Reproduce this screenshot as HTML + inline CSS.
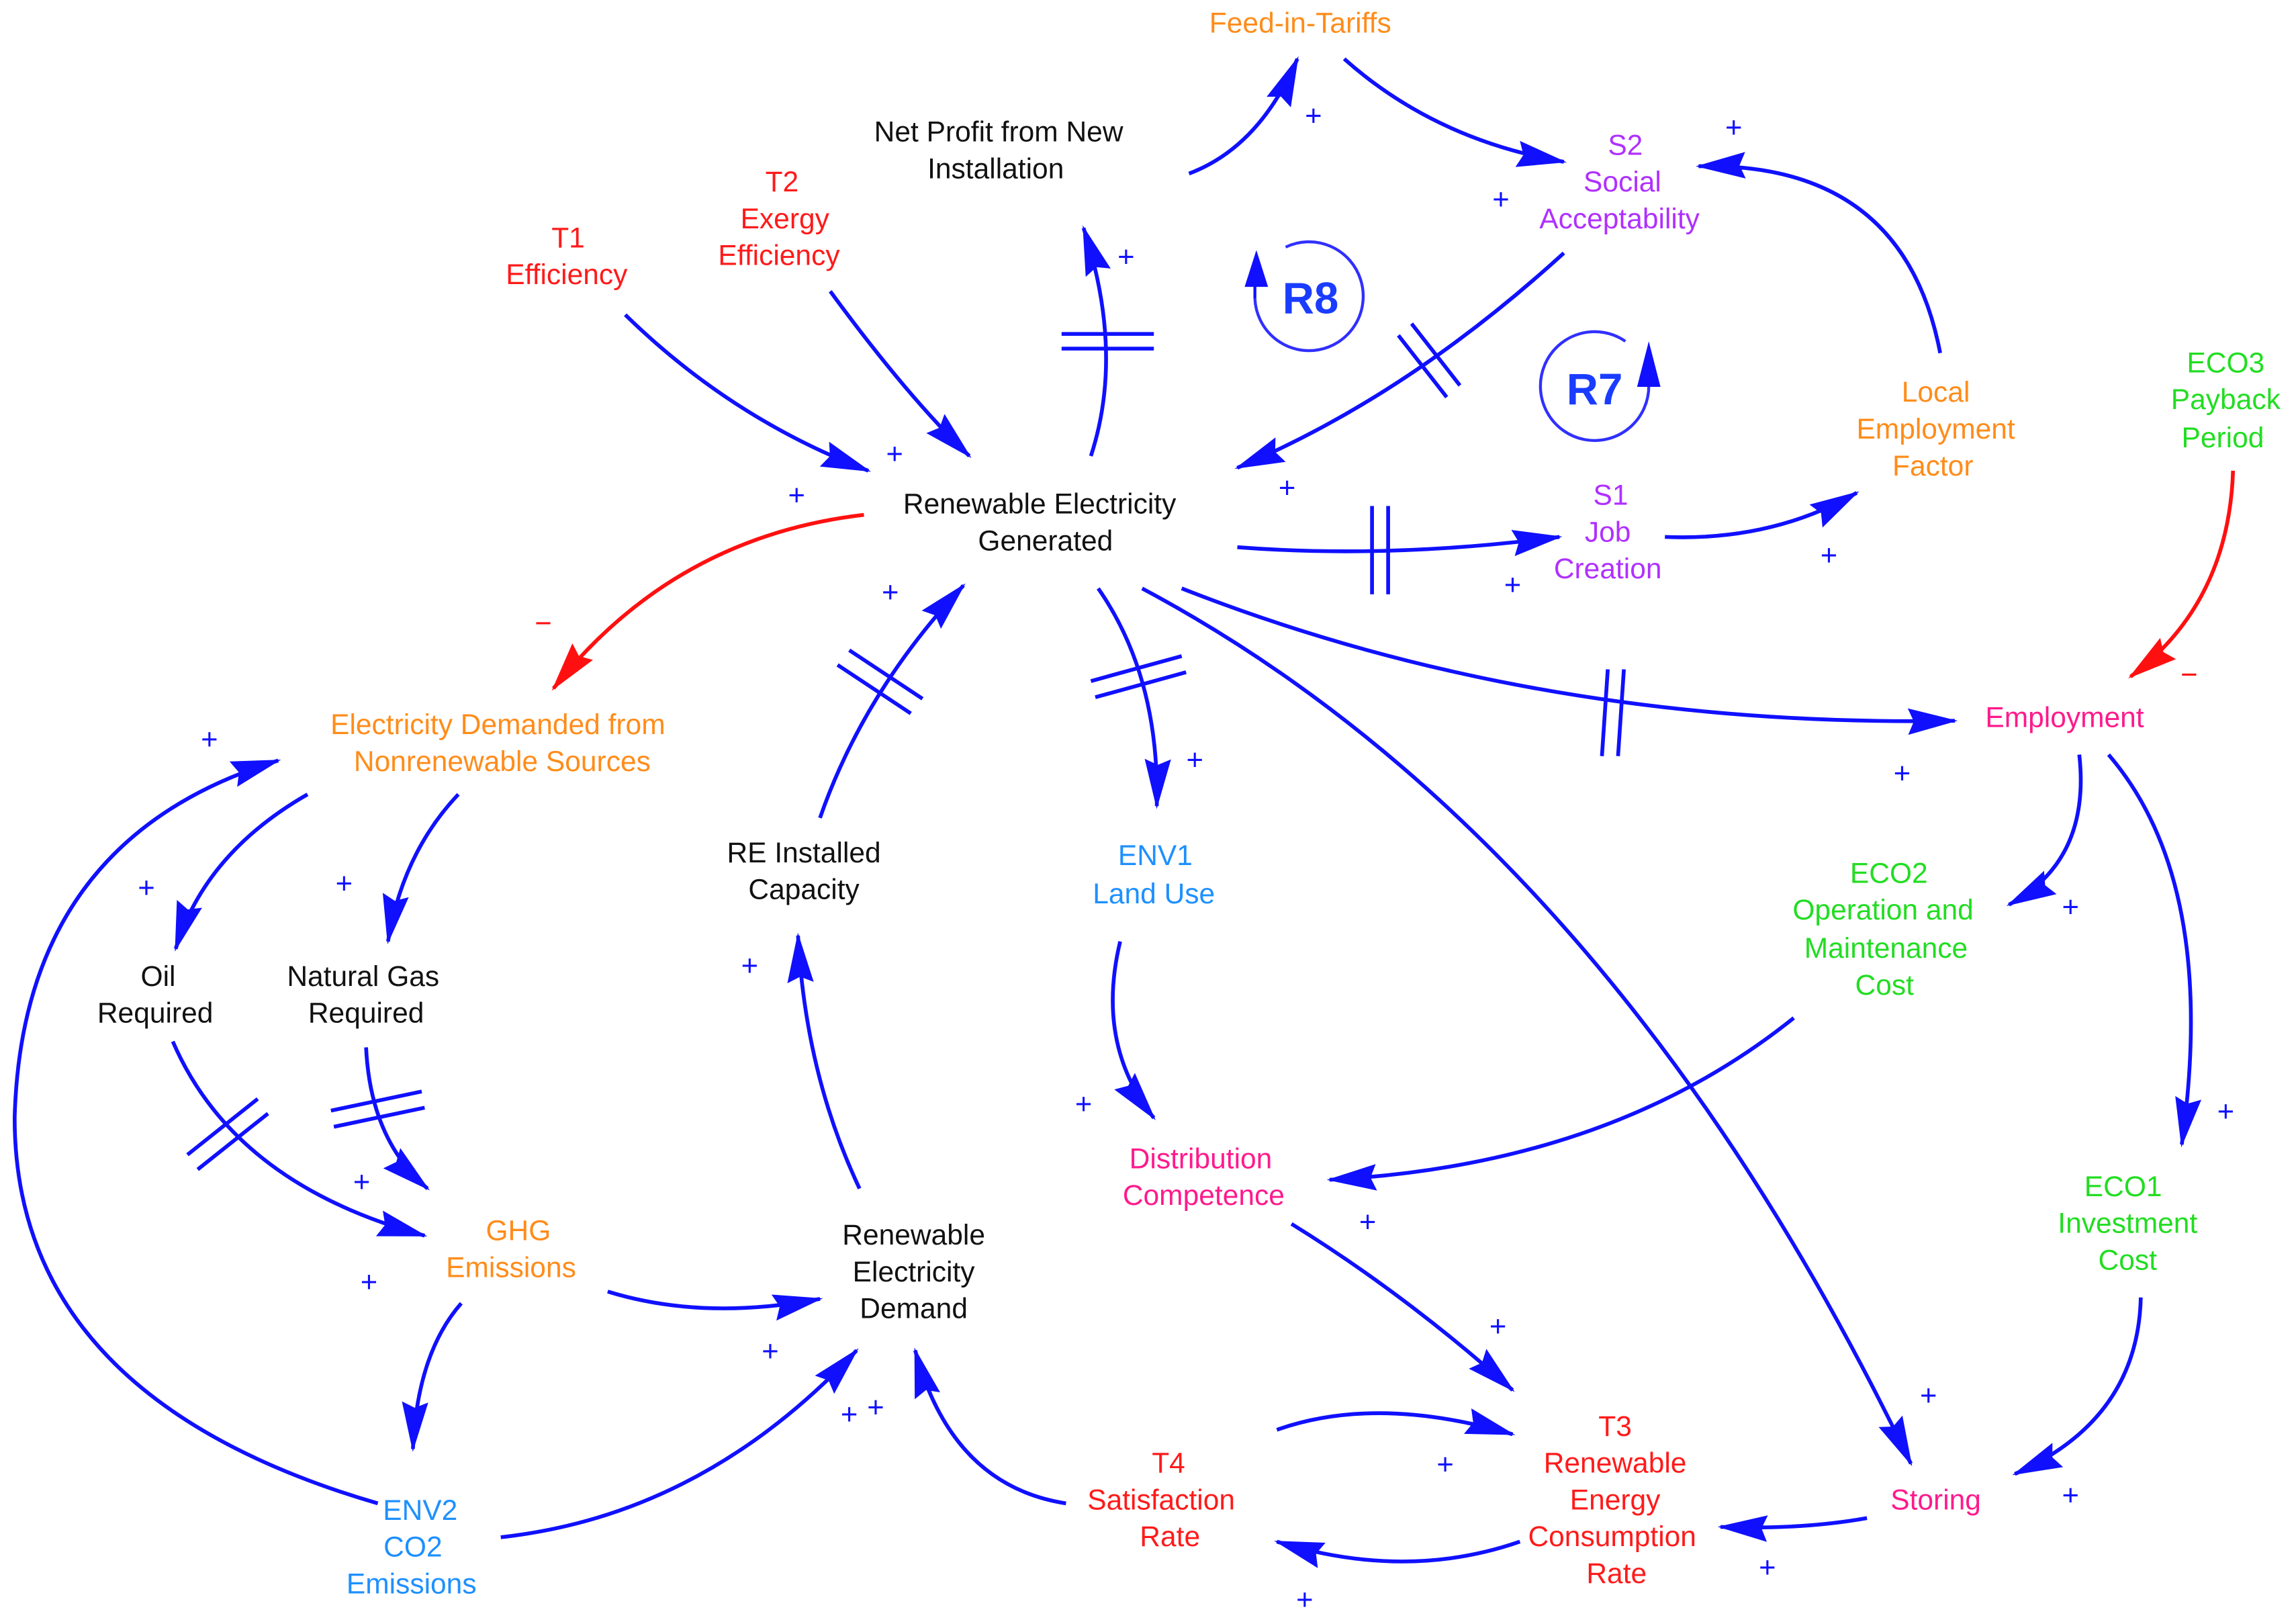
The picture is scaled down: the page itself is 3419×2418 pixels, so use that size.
<!DOCTYPE html>
<html><head><meta charset="utf-8"><style>
html,body{margin:0;padding:0;background:#fff;}
svg{display:block;}
text{font-family:"Liberation Sans",sans-serif;font-size:19.5px;text-anchor:middle;dominant-baseline:middle;}
.k{fill:#111}.o{fill:#ff8c1a}.r{fill:#ff1a1a}.p{fill:#b030ff}.g{fill:#22dd22}.b{fill:#1e90ff}.m{fill:#ff1a8c}
.s{fill:#1010ff;font-size:20px}
.e{fill:none;stroke:#1010ff;stroke-width:2.6}
.er{fill:none;stroke:#ff1010;stroke-width:2.6}
.d{stroke:#1010ff;stroke-width:2.6}
</style></head><body>
<svg width="3419" height="2418" viewBox="0 0 1568 1104" preserveAspectRatio="none" xmlns="http://www.w3.org/2000/svg">
<defs>
<marker id="a" markerUnits="userSpaceOnUse" markerWidth="36" markerHeight="22" refX="32" refY="11" orient="auto"><path d="M0,2 L34,11 L0,20 L4,11 Z" fill="#1010ff"/></marker>
<marker id="ar" markerUnits="userSpaceOnUse" markerWidth="36" markerHeight="22" refX="32" refY="11" orient="auto"><path d="M0,2 L34,11 L0,20 L4,11 Z" fill="#ff1010"/></marker>
</defs>
<rect width="1568" height="1104" fill="#fff"/>
<g>
<path class="e" marker-end="url(#a)" d="M812,118 Q860,100 886,40"/>
<path class="e" marker-end="url(#a)" d="M918,40 Q980,95 1068,110"/>
<path class="e" marker-end="url(#a)" d="M1325,240 Q1300,110 1160,113"/>
<path class="e" marker-end="url(#a)" d="M1068,172 Q960,270 845,318"/>
<path class="e" marker-end="url(#a)" d="M427,214 Q500,285 593,320"/>
<path class="e" marker-end="url(#a)" d="M567,198 Q620,270 662,310"/>
<path class="e" marker-end="url(#a)" d="M745,310 Q768,240 740,155"/>
<path class="e" marker-end="url(#a)" d="M845,372 Q950,380 1065,365"/>
<path class="e" marker-end="url(#a)" d="M1137,365 Q1210,368 1268,335"/>
<path class="er" marker-end="url(#ar)" d="M1525,320 Q1522,410 1455,460"/>
<path class="e" marker-end="url(#a)" d="M807,400 Q1050,495 1335,490"/>
<path class="er" marker-end="url(#ar)" d="M590,350 Q460,365 378,468"/>
<path class="e" marker-end="url(#a)" d="M750,400 Q792,460 790,548"/>
<path class="e" marker-end="url(#a)" d="M780,400 Q1100,570 1305,995"/>
<path class="e" marker-end="url(#a)" d="M560,556 Q590,470 658,398"/>
<path class="e" marker-end="url(#a)" d="M1420,513 Q1428,585 1372,615"/>
<path class="e" marker-end="url(#a)" d="M1440,513 Q1515,600 1490,778"/>
<path class="e" marker-end="url(#a)" d="M1225,692 Q1100,792 908,802"/>
<path class="e" marker-end="url(#a)" d="M765,640 Q748,710 788,760"/>
<path class="e" marker-end="url(#a)" d="M882,832 Q960,880 1033,945"/>
<path class="e" marker-end="url(#a)" d="M1462,882 Q1460,965 1376,1002"/>
<path class="e" marker-end="url(#a)" d="M1275,1032 Q1230,1040 1175,1038"/>
<path class="e" marker-end="url(#a)" d="M1038,1048 Q960,1075 872,1048"/>
<path class="e" marker-end="url(#a)" d="M728,1022 Q650,1010 625,918"/>
<path class="e" marker-end="url(#a)" d="M872,972 Q940,948 1033,975"/>
<path class="e" marker-end="url(#a)" d="M342,1045 Q480,1030 585,918"/>
<path class="e" marker-end="url(#a)" d="M415,878 Q480,898 560,883"/>
<path class="e" marker-end="url(#a)" d="M315,886 Q285,920 282,985"/>
<path class="e" marker-end="url(#a)" d="M258,1022 Q10,950 10,760 Q15,570 190,517"/>
<path class="e" marker-end="url(#a)" d="M210,540 Q140,580 120,645"/>
<path class="e" marker-end="url(#a)" d="M313,540 Q275,580 265,640"/>
<path class="e" marker-end="url(#a)" d="M118,708 Q160,805 290,840"/>
<path class="e" marker-end="url(#a)" d="M250,712 Q253,775 292,808"/>
<path class="e" marker-end="url(#a)" d="M587,808 Q550,730 545,636"/>
</g>
<g class="d">
<line x1="725" y1="227" x2="788" y2="227"/><line x1="725" y1="237" x2="788" y2="237"/>
<line x1="955" y1="228" x2="988" y2="270"/><line x1="964" y1="220" x2="997" y2="262"/>
<line x1="937" y1="344" x2="937" y2="404"/><line x1="948" y1="344" x2="948" y2="404"/>
<line x1="1098" y1="455" x2="1094" y2="514"/><line x1="1109" y1="455" x2="1105" y2="514"/>
<line x1="745" y1="463" x2="807" y2="446"/><line x1="748" y1="474" x2="810" y2="457"/>
<line x1="572" y1="452" x2="622" y2="485"/><line x1="580" y1="442" x2="630" y2="475"/>
<line x1="128" y1="785" x2="176" y2="747"/>
<line x1="135" y1="795" x2="183" y2="757"/>
<line x1="226" y1="755" x2="288" y2="742"/><line x1="228" y1="766" x2="290" y2="753"/>
</g>
<path fill="none" stroke="#3030ff" stroke-width="2" d="M878,168 A37,37 0 1,1 857,203"/>
<path d="M850,195 L858,170 L866,195 Z" fill="#1010ff"/>
<line x1="857" y1="192" x2="857" y2="203" stroke="#1010ff" stroke-width="2"/>
<text x="895" y="205" style="font-size:30px;font-weight:bold;fill:#1a3cff">R8</text>
<path fill="none" stroke="#3030ff" stroke-width="2" d="M1110,232 A37,37 0 1,0 1126,262"/>
<path d="M1118,263 L1126,232 L1134,263 Z" fill="#1010ff"/>
<text x="1089" y="267" style="font-size:30px;font-weight:bold;fill:#1a3cff">R7</text>
<text class="o" x="888" y="17">Feed-in-Tariffs</text>
<text class="k" x="682" y="91">Net Profit from New</text><text class="k" x="680" y="116">Installation</text>
<text class="r" x="534" y="125">T2</text><text class="r" x="536" y="150">Exergy</text><text class="r" x="532" y="175">Efficiency</text>
<text class="r" x="388" y="163">T1</text><text class="r" x="387" y="188">Efficiency</text>
<text class="p" x="1110" y="100">S2</text><text class="p" x="1108" y="125">Social</text><text class="p" x="1106" y="150">Acceptability</text>
<text class="o" x="1322" y="268">Local</text><text class="o" x="1322" y="293">Employment</text><text class="o" x="1320" y="318">Factor</text>
<text class="g" x="1520" y="248">ECO3</text><text class="g" x="1520" y="273">Payback</text><text class="g" x="1518" y="299">Period</text>
<text class="k" x="710" y="344">Renewable Electricity</text><text class="k" x="714" y="369">Generated</text>
<text class="p" x="1100" y="338">S1</text><text class="p" x="1098" y="363">Job</text><text class="p" x="1098" y="388">Creation</text>
<text class="m" x="1410" y="489">Employment</text>
<text class="o" x="340" y="494">Electricity Demanded from</text><text class="o" x="343" y="519">Nonrenewable Sources</text>
<text class="k" x="549" y="581">RE Installed</text><text class="k" x="549" y="606">Capacity</text>
<text class="b" x="789" y="583">ENV1</text><text class="b" x="788" y="609">Land Use</text>
<text class="g" x="1290" y="595">ECO2</text><text class="g" x="1286" y="620">Operation and</text><text class="g" x="1288" y="646">Maintenance</text><text class="g" x="1287" y="671">Cost</text>
<text class="k" x="108" y="665">Oil</text><text class="k" x="106" y="690">Required</text>
<text class="k" x="248" y="665">Natural Gas</text><text class="k" x="250" y="690">Required</text>
<text class="m" x="820" y="789">Distribution</text><text class="m" x="822" y="814">Competence</text>
<text class="g" x="1450" y="808">ECO1</text><text class="g" x="1453" y="833">Investment</text><text class="g" x="1453" y="858">Cost</text>
<text class="o" x="354" y="838">GHG</text><text class="o" x="349" y="863">Emissions</text>
<text class="k" x="624" y="841">Renewable</text><text class="k" x="624" y="866">Electricity</text><text class="k" x="624" y="891">Demand</text>
<text class="r" x="1103" y="971">T3</text><text class="r" x="1103" y="996">Renewable</text><text class="r" x="1103" y="1021">Energy</text><text class="r" x="1101" y="1046">Consumption</text><text class="r" x="1104" y="1071">Rate</text>
<text class="r" x="798" y="996">T4</text><text class="r" x="793" y="1021">Satisfaction</text><text class="r" x="799" y="1046">Rate</text>
<text class="m" x="1322" y="1021">Storing</text>
<text class="b" x="287" y="1028">ENV2</text><text class="b" x="282" y="1053">CO2</text><text class="b" x="281" y="1078">Emissions</text>
<g class="s">
<text class="s" x="897" y="80">+</text><text class="s" x="1025" y="137">+</text><text class="s" x="1184" y="88">+</text>
<text class="s" x="879" y="333">+</text><text class="s" x="544" y="338">+</text><text class="s" x="611" y="310">+</text>
<text class="s" x="769" y="176">+</text><text class="s" x="1033" y="399">+</text><text class="s" x="1249" y="379">+</text>
<text class="s" x="1299" y="527">+</text><text class="s" x="816" y="518">+</text><text class="s" x="1317" y="950">+</text>
<text class="s" x="608" y="404">+</text><text class="s" x="1414" y="618">+</text><text class="s" x="1520" y="757">+</text>
<text class="s" x="740" y="752">+</text><text class="s" x="934" y="832">+</text><text class="s" x="1023" y="903">+</text>
<text class="s" x="1414" y="1018">+</text><text class="s" x="1207" y="1067">+</text><text class="s" x="891" y="1089">+</text>
<text class="s" x="598" y="958">+</text><text class="s" x="580" y="963">+</text><text class="s" x="987" y="997">+</text>
<text class="s" x="526" y="920">+</text><text class="s" x="252" y="873">+</text><text class="s" x="143" y="504">+</text>
<text class="s" x="100" y="605">+</text><text class="s" x="235" y="602">+</text><text class="s" x="247" y="805">+</text>
<text class="s" x="512" y="658">+</text>
</g>
<text x="371" y="425" style="fill:#ff1010;font-size:20px">−</text>
<text x="1495" y="460" style="fill:#ff1010;font-size:20px">−</text>
</svg>
</body></html>
